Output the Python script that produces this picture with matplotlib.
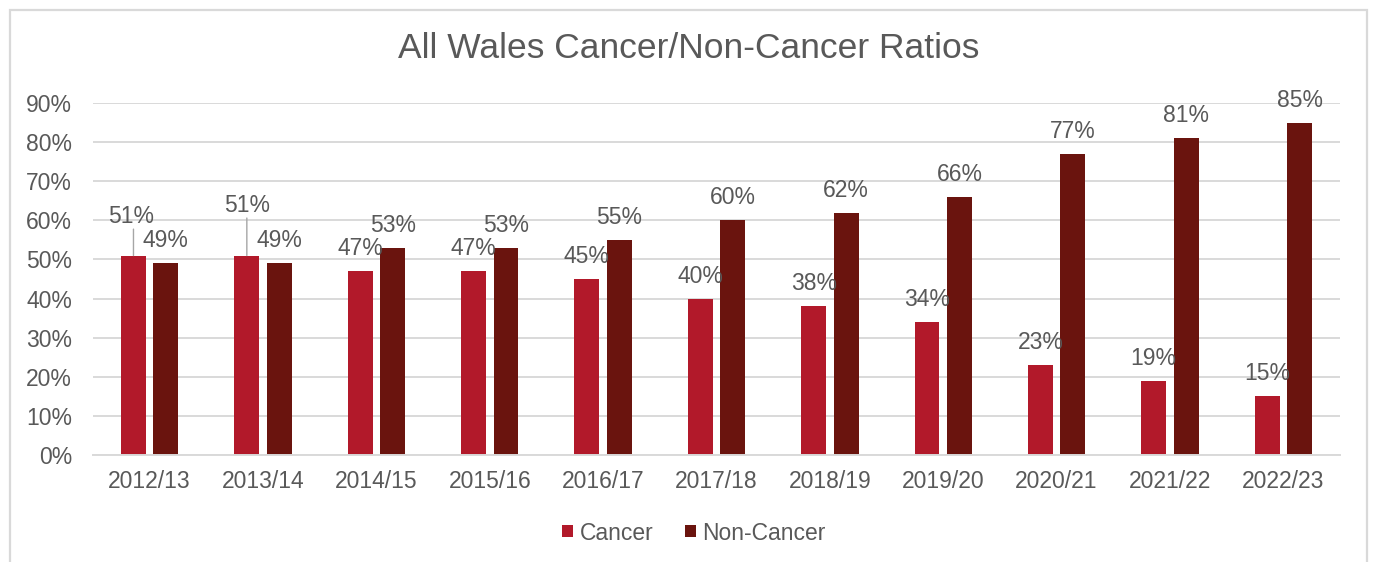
import matplotlib
matplotlib.use("Agg")
import numpy as np
import matplotlib.pyplot as plt
from matplotlib.patches import Rectangle

plt.rcParams['font.family'] = ['Liberation Sans', 'DejaVu Sans']

# data
years = ['2012/13', '2013/14', '2014/15', '2015/16', '2016/17', '2017/18',
         '2018/19', '2019/20', '2020/21', '2021/22', '2022/23']
cancer = [51, 51, 47, 47, 45, 40, 38, 34, 23, 19, 15]
non_cancer = [49, 49, 53, 53, 55, 60, 62, 66, 77, 81, 85]
yticks = [0, 10, 20, 30, 40, 50, 60, 70, 80, 90]

c_red = '#B2192A'
c_dark = '#6A140E'
txt = '#595959'
grid_c = '#D9D9D9'
fs = 16.5

W, H = 1373, 562
fig = plt.figure(figsize=(W / 100, H / 100), dpi=100)
ax = fig.add_axes([93 / W, 1 - 455 / H, (1340 - 93) / W, (455 - 103) / H])

x = np.arange(len(years))
bw = 0.22
off = 0.143
b1 = ax.bar(x - off, cancer, bw, color=c_red, label='Cancer', zorder=3)
b2 = ax.bar(x + off, non_cancer, bw, color=c_dark, label='Non-Cancer', zorder=3)

ax.set_xlim(-0.5, len(years) - 0.5)
ax.set_ylim(0, 90)
ax.set_yticks(yticks)
ax.set_yticklabels([f'{v}%' for v in yticks])
ax.set_xticks(x)
ax.set_xticklabels(years)
ax.tick_params(axis='both', length=0, labelsize=fs, labelcolor=txt)
ax.tick_params(axis='y', pad=15)
ax.tick_params(axis='x', pad=11)
ax.grid(axis='y', color=grid_c, lw=1.4, zorder=0)
for s in ['top', 'right', 'left']:
    ax.spines[s].set_visible(False)
ax.spines['bottom'].set_color(grid_c)
ax.spines['bottom'].set_linewidth(1.4)
ax.spines['bottom'].set_zorder(4)

# data labels (points offset above bar top); first two cancer labels moved up
lift = {0: (-1.5, 28), 1: (0, 36)}
for i, (bar, v) in enumerate(zip(b1, cancer)):
    cx = bar.get_x() + bar.get_width() / 2
    dx, dy = lift.get(i, (0, 16.2))
    ax.annotate(f'{v}%', (cx, v), xytext=(dx, dy), textcoords='offset points',
                ha='center', va='center', fontsize=fs, color=txt, zorder=5)
    if i in lift:
        ax.annotate('', (cx, v), xytext=(0, dy - 9), textcoords='offset points',
                    arrowprops=dict(arrowstyle='-', color='#A6A6A6', lw=1.0,
                                    shrinkA=0, shrinkB=0), zorder=5)
for bar, v in zip(b2, non_cancer):
    cx = bar.get_x() + bar.get_width() / 2
    ax.annotate(f'{v}%', (cx, v), xytext=(0, 16.2), textcoords='offset points',
                ha='center', va='center', fontsize=fs, color=txt, zorder=5)

fig.text(689 / W, 1 - 49 / H, 'All Wales Cancer/Non-Cancer Ratios',
         ha='center', va='center', fontsize=25.5, color=txt)

leg = fig.legend(handles=[b1, b2], loc='center', bbox_to_anchor=(694 / W, 1 - 533 / H),
                 ncol=2, frameon=False, fontsize=fs, handlelength=0.45,
                 handleheight=0.45, handletextpad=0.3, columnspacing=1.4)
for t in leg.get_texts():
    t.set_color(txt)

# chart border
fig.patches.append(Rectangle((10 / W, -0.05), (1367 - 10) / W, 1.05 - 10 / H,
                             transform=fig.transFigure, fill=False,
                             edgecolor=grid_c, lw=1.6))

fig.savefig('out.png', dpi=100)
